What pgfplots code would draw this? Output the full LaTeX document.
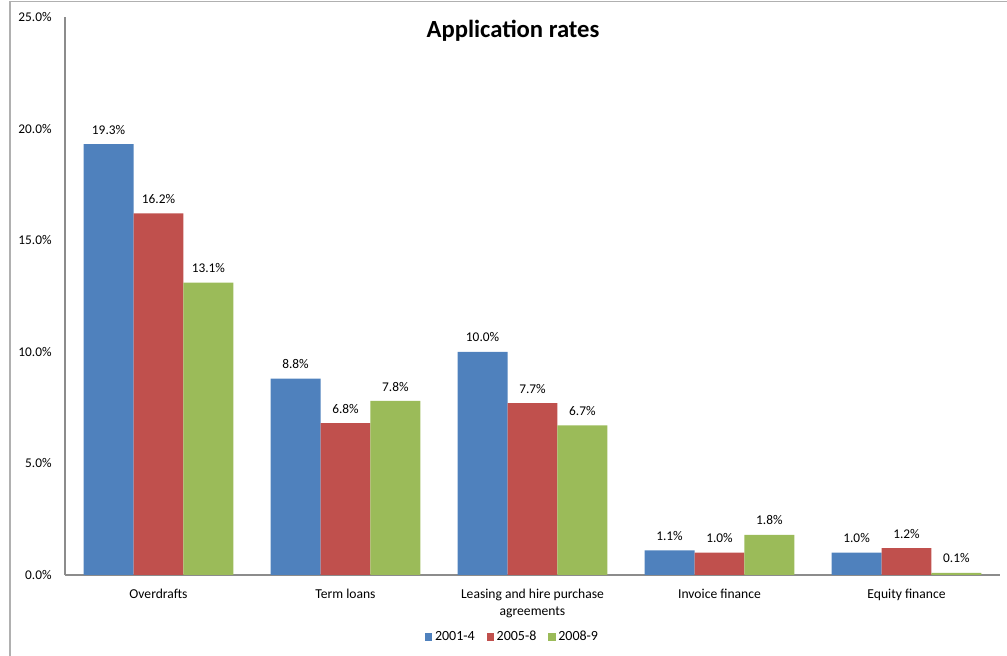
\documentclass[border=0pt]{standalone}
\usepackage{pgfplots}
\pgfplotsset{compat=1.18}
\usepackage{fontspec}
\setmainfont{Carlito}

\definecolor{xlblue}{HTML}{4F81BD}
\definecolor{xlred}{HTML}{C0504D}
\definecolor{xlgreen}{HTML}{9BBB59}
\definecolor{axisgray}{HTML}{8C8C8C}
\definecolor{framegray}{HTML}{B0B0B0}

% application rates (%) by product, one series per period
\pgfplotstableread{
x  v
0  19.3
1  8.8
2  10.0
3  1.1
4  1.0
}\periodA
\pgfplotstableread{
x  v
0  16.2
1  6.8
2  7.7
3  1.0
4  1.2
}\periodB
\pgfplotstableread{
x  v
0  13.1
1  7.8
2  6.7
3  1.8
4  0.1
}\periodC

\begin{document}
\begin{tikzpicture}
% page extent and chart frame (1px = 0.75pt, axis origin at 0,0)
\path[use as bounding box] (-48.75pt,-60.75pt) rectangle (706.5pt,431.25pt);
\draw[framegray, line width=1.1pt] (-41.25pt,-62pt) -- (-41.25pt,430pt) -- (708pt,430pt);

\begin{axis}[
  at={(0,0)}, anchor=south west,
  scale only axis,
  width=701.25pt, height=418.5pt,
  ybar=0pt, bar width=0.267,
  xmin=-0.5, xmax=4.5,
  ymin=0, ymax=25,
  axis lines*=left,
  axis line style={axisgray, line width=0.9pt, -},
  major tick length=0pt,
  xtick=data,
  xticklabels={Overdrafts, Term loans, {Leasing and hire purchase\\agreements}, Invoice finance, Equity finance},
  xticklabel style={align=center, font=\fontsize{10.2}{12.6}\selectfont, yshift=-7pt},
  ytick={0,5,10,15,20,25},
  yticklabel={\pgfmathprintnumber[fixed,fixed zerofill,precision=1]{\tick}\%},
  yticklabel style={font=\fontsize{10}{12}\selectfont, xshift=-6.5pt},
  /pgf/number format/assume math mode=true,
  nodes near coords={\pgfmathprintnumber[fixed,fixed zerofill,precision=1]{\pgfplotspointmeta}\%},
  every node near coord/.append style={font=\fontsize{10}{12}\selectfont, black, anchor=south, yshift=3.8pt},
  legend columns=3,
  legend style={at={(axis description cs:0.4791,-0.1111)}, anchor=center, draw=none,
    font=\fontsize{10.5}{12}\selectfont, inner sep=0pt,
    /tikz/every even column/.append style={column sep=7pt}},
  legend image code/.code={\fill[#1] (0pt,-2.7pt) rectangle (5.4pt,2.7pt);},
]
\addplot[fill=xlblue, draw=none] table[x=x, y=v] {\periodA};
\addplot[fill=xlred, draw=none] table[x=x, y=v] {\periodB};
\addplot[fill=xlgreen, draw=none] table[x=x, y=v] {\periodC};
\legend{2001-4, 2005-8, 2008-9}
\end{axis}

\node[font=\bfseries\fontsize{18.5}{22}\selectfont] at (336pt,408.5pt) {Application rates};
\end{tikzpicture}
\end{document}
